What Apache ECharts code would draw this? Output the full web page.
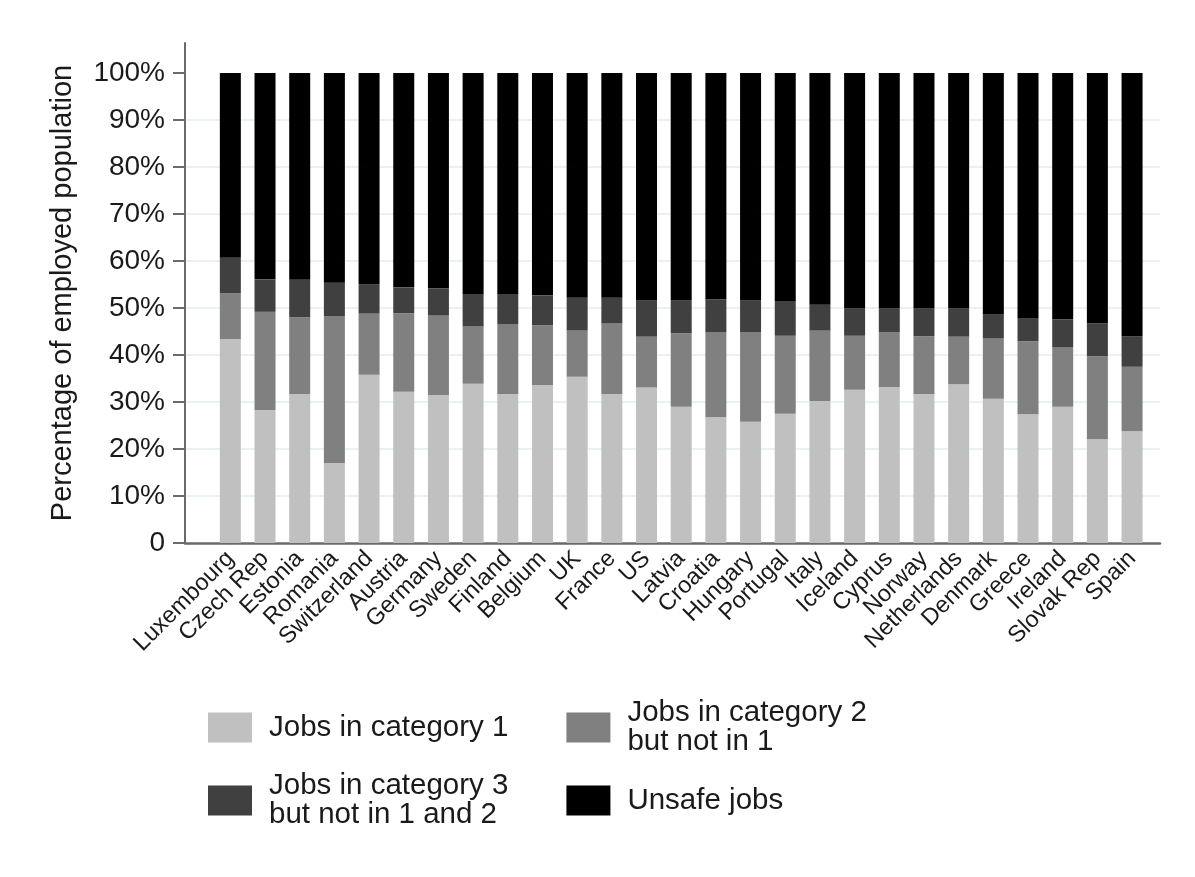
<!DOCTYPE html>
<html>
<head>
<meta charset="utf-8">
<script src="https://cdn.jsdelivr.net/npm/echarts@6/dist/echarts.min.js"></script>
<style>
  html, body { margin: 0; padding: 0; background: #fff; }
  #chart { width: 1195px; height: 877px; }
</style>
</head>
<body>
<div id="chart"></div>
<script>
var countries = ['Luxembourg', 'Czech Rep', 'Estonia', 'Romania', 'Switzerland', 'Austria', 'Germany',
  'Sweden', 'Finland', 'Belgium', 'UK', 'France', 'US', 'Latvia', 'Croatia', 'Hungary', 'Portugal',
  'Italy', 'Iceland', 'Cyprus', 'Norway', 'Netherlands', 'Denmark', 'Greece', 'Ireland', 'Slovak Rep', 'Spain'];

// shares of employed population, in %, one segment per series (bottom to top)
var cat1 = [43.4, 28.3, 31.7, 17.0, 35.8, 32.2, 31.5, 33.9, 31.7, 33.6, 35.4, 31.7, 33.1, 29.0,
  26.8, 25.8, 27.5, 30.2, 32.6, 33.2, 31.7, 33.8, 30.7, 27.4, 29.0, 22.1, 23.8];
var cat2 = [9.7, 20.9, 16.3, 31.3, 13.0, 16.7, 16.9, 12.2, 14.9, 12.7, 9.9, 15.0, 10.8, 15.6,
  18.1, 19.1, 16.6, 15.0, 11.5, 11.6, 12.3, 10.1, 12.9, 15.5, 12.7, 17.6, 13.7];
var cat3 = [7.6, 6.9, 8.0, 7.1, 6.3, 5.5, 5.8, 6.9, 6.4, 6.4, 6.9, 5.5, 7.8, 7.1,
  6.9, 6.8, 7.4, 5.5, 5.9, 5.2, 6.0, 6.1, 5.1, 4.9, 5.9, 7.0, 6.5];
var unsafe = [39.3, 43.9, 44.0, 44.6, 44.9, 45.6, 45.8, 47.0, 47.0, 47.3, 47.8, 47.8, 48.3, 48.3,
  48.2, 48.3, 48.5, 49.3, 50.0, 50.0, 50.0, 50.0, 51.3, 52.2, 52.4, 53.3, 56.0];

var yTicks = [0, 10, 20, 30, 40, 50, 60, 70, 80, 90, 100];
var seriesNames = ['Jobs in category 1', 'Jobs in category 2\nbut not in 1',
  'Jobs in category 3\nbut not in 1 and 2', 'Unsafe jobs'];
var colors = ['#c0c0c0', '#808080', '#404040', '#000000'];

var FONT = 'Liberation Sans, Arial, Helvetica, sans-serif';
var TEXT = '#1a1a1a';
var AXIS = '#6a6a6a';
var Y_TOP = 106.4;  // axis runs a bit past 100%

function makeSeries(name, values) {
  return {
    name: name,
    type: 'bar',
    stack: 'share',
    xAxisIndex: 1,
    yAxisIndex: 1,
    barWidth: 21,
    data: values,
    emphasis: { disabled: true }
  };
}

var legendBase = {
  left: 208,
  padding: 0,
  itemGap: 58,
  itemWidth: 44,
  itemHeight: 30,
  icon: 'rect',
  selectedMode: false,
  textStyle: {
    fontFamily: FONT,
    fontSize: 29.5,
    lineHeight: 29,
    color: TEXT,
    padding: [0, 0, 0, 12]
  }
};

var option = {
  animation: false,
  color: colors,
  textStyle: { fontFamily: FONT },
  grid: [
    // frame: axis lines and y scale
    { left: 185, right: 35, top: 43, bottom: 334 },
    // bars: inset so the first and last bars sit away from the axes
    { left: 213, right: 45.6, top: 43, bottom: 334 }
  ],
  legend: [
    Object.assign({}, legendBase, { top: 698, data: [seriesNames[0], seriesNames[1]] }),
    Object.assign({}, legendBase, { top: 771, data: [seriesNames[2], seriesNames[3]] })
  ],
  xAxis: [
    {
      gridIndex: 0,
      type: 'value',
      min: 0,
      max: 1,
      axisLine: { show: true, onZero: false, lineStyle: { color: AXIS, width: 2.5 } },
      axisTick: { show: false },
      axisLabel: { show: false },
      splitLine: { show: false }
    },
    {
      gridIndex: 1,
      type: 'category',
      data: countries,
      axisLine: { show: false },
      axisTick: { show: false },
      axisLabel: {
        interval: 0,
        rotate: 45,
        margin: 12,
        fontFamily: FONT,
        fontSize: 23.5,
        color: TEXT
      }
    }
  ],
  yAxis: [
    {
      gridIndex: 0,
      type: 'value',
      min: 0,
      max: Y_TOP,
      interval: 10,
      name: 'Percentage of employed population',
      nameLocation: 'middle',
      nameGap: 108,
      nameTextStyle: { fontFamily: FONT, fontSize: 29, color: TEXT },
      axisLine: { show: true, onZero: false, lineStyle: { color: AXIS, width: 2 } },
      axisTick: {
        show: true,
        customValues: yTicks,
        length: 12,
        lineStyle: { color: AXIS, width: 2 }
      },
      axisLabel: {
        customValues: yTicks,
        formatter: function (v) { return v === 0 ? '0' : v + '%'; },
        margin: 20,
        fontFamily: FONT,
        fontSize: 28,
        color: TEXT
      },
      splitLine: {
        show: true,
        showMinLine: false,
        showMaxLine: false,
        lineStyle: { color: '#e3eded', width: 1.5 }
      }
    },
    {
      gridIndex: 1,
      type: 'value',
      min: 0,
      max: Y_TOP,
      show: false,
      splitLine: { show: false }
    }
  ],
  series: [
    makeSeries(seriesNames[0], cat1),
    makeSeries(seriesNames[1], cat2),
    makeSeries(seriesNames[2], cat3),
    makeSeries(seriesNames[3], unsafe)
  ]
};

var myChart = echarts.init(document.getElementById('chart'));
myChart.setOption(option);
</script>
</body>
</html>
